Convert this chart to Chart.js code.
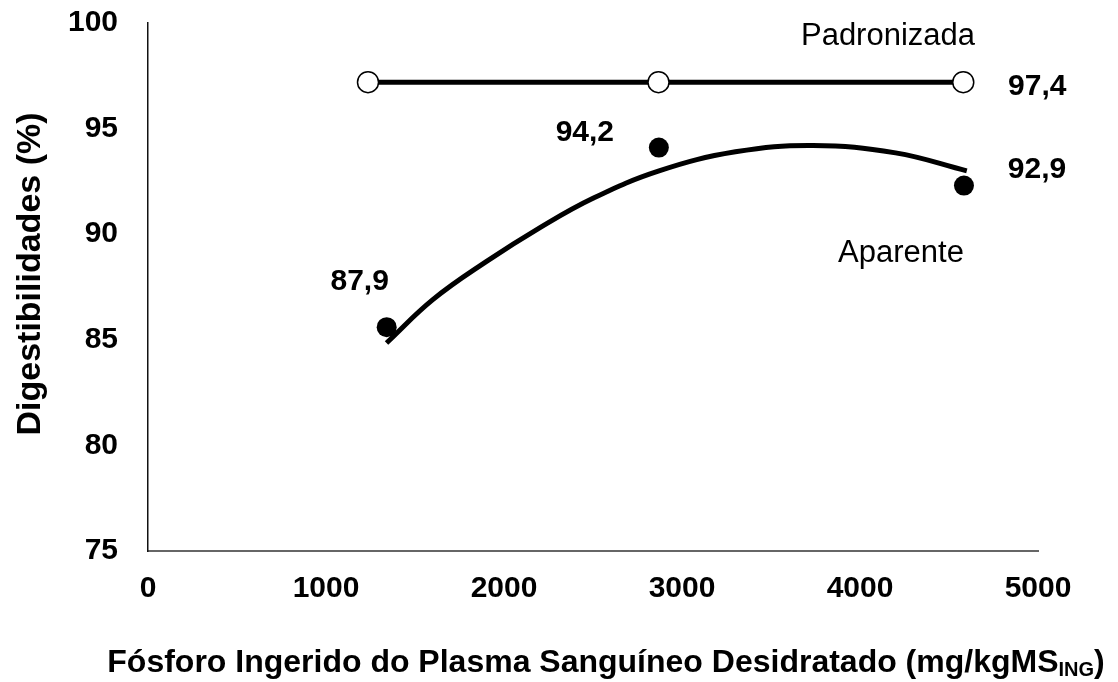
<!DOCTYPE html>
<html><head><meta charset="utf-8">
<script src="https://cdn.jsdelivr.net/npm/chart.js@4"></script>
<style>html,body{margin:0;padding:0;background:#fff}#wrap{width:1118px;height:682px}</style>
</head><body><div id="wrap"><canvas id="c" width="1118" height="682"></canvas></div>
<script>
// ---- data ----
const padX = [1236, 2868, 4580];
const padY = [97.2, 97.2, 97.2];
const padLabel = '97,4';
const apX = [1341, 2870, 4584];
const apY = [85.6, 94.1, 92.3];
const apLabels = ['87,9', '94,2', '92,9'];
const fitX = [1340, 1600, 1900, 2200, 2500, 2871, 3300, 3736, 4200, 4600];
const fitY = [84.85, 86.9, 88.7, 90.3, 91.7, 93.0, 93.9, 94.2, 93.85, 93.0];
const xTicks = [0, 1000, 2000, 3000, 4000, 5000];
const yTicks = [75, 80, 85, 90, 95, 100];
const seriesNames = ['Padronizada', 'Aparente'];
const xTitle = 'Fósforo Ingerido do Plasma Sanguíneo Desidratado (mg/kgMS';
const xTitleSub = 'ING';
const yTitle = 'Digestibilidades (%)';

const FONT = "Arial, 'Liberation Sans', sans-serif";
const toXY = (xs, ys) => xs.map((x, i) => ({x: x, y: ys[i]}));

const textPlugin = {
  id: 'texts',
  afterDraw(chart) {
    const ctx = chart.ctx;
    const xs = chart.scales.x, ys = chart.scales.y;
    const ca = chart.chartArea;
    ctx.save();
    ctx.fillStyle = '#000';
    ctx.textAlign = 'center';
    ctx.textBaseline = 'alphabetic';
    // value labels
    ctx.font = 'bold 30px ' + FONT;
    const offs = [[-27, -37], [-74, -7], [73, -8]];
    apLabels.forEach((t, i) => {
      const px = xs.getPixelForValue(apX[i]), py = ys.getPixelForValue(apY[i]);
      ctx.fillText(t, px + offs[i][0], py + offs[i][1]);
    });
    const lp = padX.length - 1;
    ctx.fillText(padLabel, xs.getPixelForValue(padX[lp]) + 74, ys.getPixelForValue(padY[lp]) + 13);
    // series names
    ctx.font = '31px ' + FONT;
    ctx.fillText(seriesNames[0], ca.left + 740, ca.top + 22);
    ctx.fillText(seriesNames[1], ca.left + 753, ca.top + 239);
    // y title
    ctx.save();
    ctx.font = 'bold 34px ' + FONT;
    ctx.translate(40, (ca.top + ca.bottom) / 2 - 13);
    ctx.rotate(-Math.PI / 2);
    ctx.fillText(yTitle, 0, 0);
    ctx.restore();
    // x title with subscript
    const mainF = 'bold 32px ' + FONT, subF = 'bold 20px ' + FONT;
    ctx.font = mainF; const w1 = ctx.measureText(xTitle).width;
    ctx.font = subF; const w2 = ctx.measureText(xTitleSub).width;
    ctx.font = mainF; const w3 = ctx.measureText(')').width;
    const total = w1 + w2 + w3;
    let x0 = 606 - total / 2;
    const base = 672;
    ctx.textAlign = 'left';
    ctx.font = mainF; ctx.fillText(xTitle, x0, base);
    ctx.font = subF; ctx.fillText(xTitleSub, x0 + w1, base + 4);
    ctx.font = mainF; ctx.fillText(')', x0 + w1 + w2, base);
    ctx.restore();
  }
};

new Chart(document.getElementById('c'), {
  type: 'scatter',
  data: {
    datasets: [
      {
        label: seriesNames[1] + ' (ajuste)',
        data: toXY(fitX, fitY),
        showLine: true,
        borderColor: '#000',
        borderWidth: 5,
        pointRadius: 0,
        tension: 0.4,
        fill: false
      },
      {
        label: seriesNames[1],
        data: toXY(apX, apY),
        showLine: false,
        pointRadius: 10,
        pointBackgroundColor: '#000',
        pointBorderColor: '#000',
        pointBorderWidth: 0
      },
      {
        label: seriesNames[0],
        data: toXY(padX, padY),
        showLine: true,
        borderColor: '#000',
        borderWidth: 5,
        tension: 0,
        pointRadius: 10.5,
        pointBackgroundColor: '#fff',
        pointBorderColor: '#000',
        pointBorderWidth: 1.5
      }
    ]
  },
  options: {
    responsive: false,
    animation: false,
    devicePixelRatio: 1,
    layout: {autoPadding: false, padding: {top: 23, right: 80, left: 0, bottom: 0}},
    plugins: {legend: {display: false}, tooltip: {enabled: false}},
    scales: {
      x: {
        type: 'linear',
        min: 0, max: 5000,
        afterBuildTicks: s => { s.ticks = xTicks.map(v => ({value: v})); },
        afterFit: s => { s.height = 131; s.paddingLeft = 0; s.paddingRight = 0; },
        grid: {display: false, drawTicks: false},
        border: {display: true, color: '#666', width: 2},
        ticks: {padding: 20, color: '#000', callback: v => String(v), font: {family: FONT, size: 30, weight: 'bold'}, maxRotation: 0}
      },
      y: {
        type: 'linear',
        min: 75, max: 100,
        afterBuildTicks: s => { s.ticks = yTicks.map(v => ({value: v})); },
        afterFit: s => { s.width = 148; s.paddingTop = 0; s.paddingBottom = 0; },
        grid: {display: false, drawTicks: false},
        border: {display: true, color: '#111', width: 1.5},
        ticks: {padding: 30, color: '#000', callback: v => String(v), font: {family: FONT, size: 30, weight: 'bold'}}
      }
    }
  },
  plugins: [textPlugin]
});
</script>
</body></html>
